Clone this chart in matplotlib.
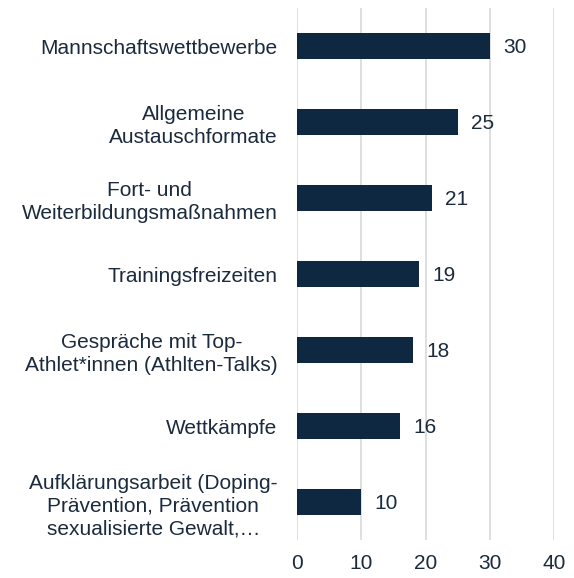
import matplotlib.pyplot as plt

plt.rcParams['font.family'] = ['Liberation Sans', 'DejaVu Sans']

# Categories top to bottom, and their values
categories = ['Mannschaftswettbewerbe',
              'Allgemeine\nAustauschformate',
              'Fort- und\nWeiterbildungsmaßnahmen',
              'Trainingsfreizeiten',
              'Gespräche mit Top-\nAthlet*innen (Athlten-Talks)',
              'Wettkämpfe',
              'Aufklärungsarbeit (Doping-\nPrävention, Prävention\nsexualisierte Gewalt,…']
values = [30, 25, 21, 19, 18, 16, 10]
xticks = [0, 10, 20, 30, 40]

navy = '#0e2841'
text_col = '#1b2a3d'

fig = plt.figure(figsize=(5.74, 5.78), dpi=100)
ax = fig.add_axes([297/574, 1 - 540/578, (554-297)/574, (540-8)/578])

pos = list(range(len(categories)))
ax.barh(pos, values, height=0.355, color=navy, zorder=3)

for p, v in zip(pos, values):
    ax.text(v + 2.1, p + 0.02, str(v), va='center', ha='left', fontsize=15, color=text_col)

ax.set_xlim(0, 40)
ax.set_ylim(len(categories) - 0.5, -0.5)
ax.set_xticks(xticks)
ax.set_xticklabels([str(t) for t in xticks])
ax.set_yticks(pos)
ax.set_yticklabels(categories, multialignment='center', linespacing=1.25)
ax.tick_params(axis='both', length=0, labelsize=15, labelcolor=text_col)
ax.tick_params(axis='y', pad=14)
ax.tick_params(axis='x', pad=10)
ax.grid(axis='x', color='#d9d9d9', linewidth=1.2, zorder=0)
for s in ax.spines.values():
    s.set_visible(False)

fig.savefig('out.png', dpi=100)
